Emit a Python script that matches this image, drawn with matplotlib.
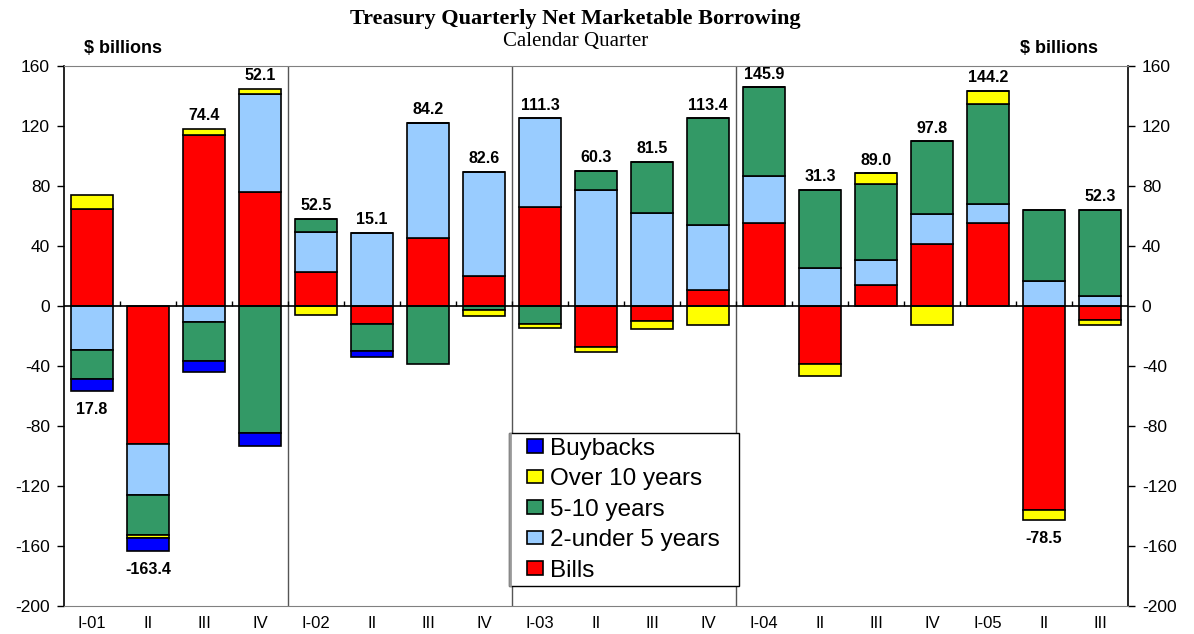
import matplotlib
matplotlib.use("Agg")
import matplotlib.pyplot as plt
from matplotlib.patches import Patch, Rectangle
import numpy as np

plt.rcParams["font.family"] = ["Liberation Sans", "DejaVu Sans"]
plt.rcParams["axes.unicode_minus"] = False

quarters = ["I-01", "II", "III", "IV", "I-02", "II", "III", "IV", "I-03", "II",
            "III", "IV", "I-04", "II", "III", "IV", "I-05", "II", "III"]

# $ billions
bills = [64.7, -92.0, 114.0, 75.8, 22.9, -12.2, 45.3, 20.0, 65.8, -27.3,
         -9.8, 10.4, 55.6, -38.4, 14.2, 41.4, 55.3, -135.8, -9.1]
two_five = [-29.3, -34.0, -10.4, 65.5, 26.2, 48.7, 77.0, 69.3, 59.3, 77.3,
            62.2, 43.8, 30.9, 25.4, 16.7, 20.2, 12.5, 16.9, 6.9]
five_ten = [-19.6, -26.4, -26.0, -84.7, 8.9, -18.0, -38.7, -2.7, -11.8, 12.9,
            33.8, 70.9, 59.4, 52.0, 50.4, 48.2, 66.9, 46.9, 57.1]
over_ten = [9.6, -2.0, 4.3, 3.6, -6.2, 0.0, 0.0, -4.0, -2.9, -3.1,
            -5.5, -12.9, 0.0, -8.0, 7.2, -12.6, 8.9, -7.1, -3.5]
buybacks = [-7.8, -8.9, -7.8, -8.4, 0.0, -4.0, 0.0, 0.0, 0.0, 0.0,
            0.0, 0.0, 0.0, 0.0, 0.0, 0.0, 0.0, 0.0, 0.0]
net_totals = ["17.8", "-163.4", "74.4", "52.1", "52.5", "15.1", "84.2", "82.6",
              "111.3", "60.3", "81.5", "113.4", "145.9", "31.3", "89.0", "97.8",
              "144.2", "-78.5", "52.3"]
label_below = {0, 1, 17}

series = [
    ("Bills", bills, "#ff0000"),
    ("2-under 5 years", two_five, "#99ccff"),
    ("5-10 years", five_ten, "#339966"),
    ("Over 10 years", over_ten, "#ffff00"),
    ("Buybacks", buybacks, "#0000ff"),
]

x = np.arange(len(quarters))
fig = plt.figure(figsize=(11.94, 6.34), dpi=100)
ax = fig.add_axes([0.0536, 0.0442, 0.8911, 0.8517])

pos_base = np.zeros(len(x))
neg_base = np.zeros(len(x))
for name, vals, col in series:
    v = np.array(vals)
    bottom = np.where(v >= 0, pos_base, neg_base)
    ax.bar(x, v, 0.76, bottom=bottom, color=col, edgecolor="black",
           linewidth=1.2, zorder=3)
    pos_base += np.clip(v, 0, None)
    neg_base += np.clip(v, None, 0)

for i, lab in enumerate(net_totals):
    if i in label_below:
        ax.annotate(lab, (x[i], neg_base[i]), xytext=(0, -8), textcoords="offset points",
                    ha="center", va="top", fontsize=11.5, fontweight="bold")
    else:
        ax.annotate(lab, (x[i], pos_base[i]), xytext=(0, 4), textcoords="offset points",
                    ha="center", va="bottom", fontsize=11.5, fontweight="bold")

# year separators and zero line with small ticks between quarters
for xs in x[3::4][:-1] + 0.5:
    ax.axvline(xs, color="#555555", linewidth=1, zorder=1)
ax.axhline(0, color="black", linewidth=1.2, zorder=4)
ax.vlines(x[:-1] + 0.5, 0, 3, color="black", linewidth=1, zorder=4)

ax.set_xlim(-0.5, len(x) - 0.5)
ax.set_ylim(-200, 160)
ax.set_yticks(np.arange(-200, 161, 40))
ax.set_xticks(x)
ax.set_xticklabels(quarters, fontsize=12)
ax.tick_params(axis="x", length=0, pad=7)
ax.tick_params(axis="y", direction="out", length=5, width=1, labelsize=12.5, pad=5,
               right=True, labelright=True)
for side in ["top", "bottom"]:
    ax.spines[side].set_color("#808080")
for side in ["left", "right"]:
    ax.spines[side].set_color("black")
    ax.spines[side].set_linewidth(1.2)

# legend frame drawn by hand: wide side padding, tight top/bottom
ax.add_patch(Rectangle((0.418, 0.037), 0.216, 0.283, transform=ax.transAxes,
                       facecolor="white", edgecolor="black", linewidth=1, zorder=5))
ax.plot([0.4195, 0.4195], [0.039, 0.318], transform=ax.transAxes,
        color="#999999", linewidth=2, zorder=6)
handles = [Patch(facecolor=col, edgecolor="black", linewidth=1.2, label=name)
           for name, vals, col in series][::-1]
leg = ax.legend(handles=handles, loc="center", bbox_to_anchor=(0.526, 0.1785),
                fontsize=17.5, frameon=False, borderaxespad=0,
                handlelength=0.65, handleheight=0.5, handletextpad=0.3,
                labelspacing=0.35, borderpad=0.1)
leg.set_zorder(7)

fig.text(0.482, 0.970, "Treasury Quarterly Net Marketable Borrowing", ha="center",
         va="center", fontsize=16, fontweight="bold", family="Liberation Serif")
fig.text(0.482, 0.935, "Calendar Quarter", ha="center", va="center", fontsize=15,
         family="Liberation Serif")
fig.text(0.070, 0.923, "$ billions", ha="left", va="center", fontsize=13, fontweight="bold")
fig.text(0.9196, 0.923, "$ billions", ha="right", va="center", fontsize=13, fontweight="bold")

fig.savefig("out.png", dpi=100)
